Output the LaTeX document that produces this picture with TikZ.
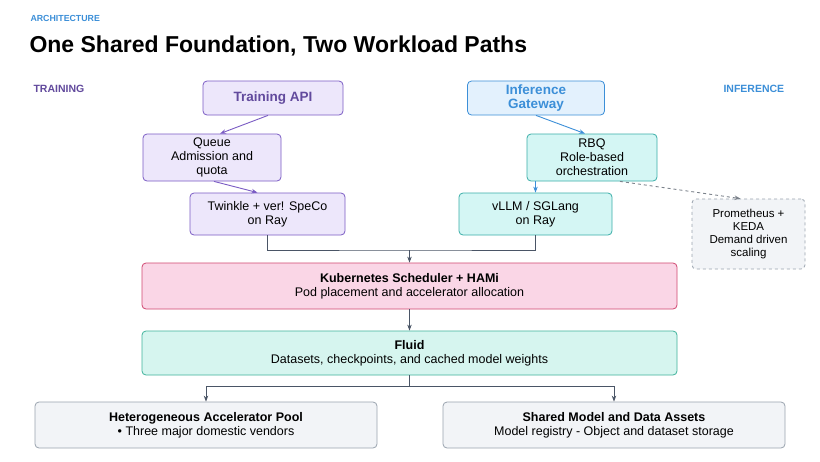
\documentclass[tikz,border=0pt]{standalone}
\usepackage{fontspec}
\setmainfont{Liberation Sans}
\usetikzlibrary{arrows.meta}
\definecolor{trainfill}{HTML}{EDE7FB}
\definecolor{trainline}{HTML}{7B5CC4}
\definecolor{inffill}{HTML}{E3F1FD}
\definecolor{infline}{HTML}{3C8FD8}
\definecolor{rbqfill}{HTML}{D4F6F4}
\definecolor{rbqline}{HTML}{3AAEA8}
\definecolor{kubefill}{HTML}{FAD6E6}
\definecolor{kubeline}{HTML}{D04770}
\definecolor{fluidfill}{HTML}{D6F5EF}
\definecolor{fluidline}{HTML}{3FB39B}
\definecolor{greyfill}{HTML}{F2F4F7}
\definecolor{greyline}{HTML}{9AA3AE}
\definecolor{linkc}{HTML}{4A5566}
\tikzset{
  box/.style={draw, rounded corners=4pt, line width=0.8pt, align=center,
    font=\fontsize{12.5}{14}\selectfont, inner sep=2pt},
  train/.style={box, fill=trainfill, draw=trainline},
  inf/.style={box, fill=inffill, draw=infline},
  rbq/.style={box, fill=rbqfill, draw=rbqline},
  grey/.style={box, fill=greyfill, draw=greyline},
  link/.style={-{Stealth[length=6pt]}, line width=0.9pt, draw=linkc}
}
\begin{document}
\begin{tikzpicture}[x=1pt, y=-1pt]
  \useasboundingbox[fill=white] (0,0) rectangle (820,461);
  % headings
  \node[anchor=west, text=infline, font=\fontsize{8.8}{10}\selectfont\bfseries] (kicker) at (27,18) {ARCHITECTURE};
  \node[anchor=west, font=\fontsize{23}{26}\selectfont\bfseries] (title) at (26,46) {One Shared Foundation, Two Workload Paths};
  \node[anchor=west, text=trainline!80!black, font=\fontsize{10.5}{12}\selectfont\bfseries] (trainlbl) at (30,89) {TRAINING};
  \node[anchor=west, text=infline, font=\fontsize{10.5}{12}\selectfont\bfseries] (inflbl) at (720,89) {INFERENCE};

  % training path
  \node[train, minimum width=140pt, minimum height=34pt, text=trainline!80!black, font=\fontsize{13.5}{15}\selectfont\bfseries] (api) at (273,98) {Training API};
  \node[train, minimum width=138pt, minimum height=47pt] (queue) at (212,157.5) {Queue\\Admission and\\quota};
  \node[train, minimum width=155pt, minimum height=42pt] (twinkle) at (267.5,214) {Twinkle + ver! SpeCo\\on Ray};

  % inference path
  \node[inf, minimum width=137pt, minimum height=34pt, text=infline, font=\fontsize{13.5}{14}\selectfont\bfseries] (gateway) at (536,98) {Inference\\Gateway};
  \node[rbq, minimum width=130pt, minimum height=47pt] (rbq) at (592,157.5) {RBQ\\Role-based\\orchestration};
  \node[rbq, minimum width=153pt, minimum height=42pt] (vllm) at (535.5,214) {vLLM / SGLang\\on Ray};
  \node[grey, dashed, minimum width=113pt, minimum height=70pt, font=\fontsize{11.5}{13}\selectfont] (scale) at (748.5,234) {Prometheus +\\KEDA\\Demand driven\\scaling};

  % shared layers
  \node[box, fill=kubefill, draw=kubeline, minimum width=535pt, minimum height=46pt] (kube) at (409.5,286) {\textbf{Kubernetes Scheduler + HAMi}\\Pod placement and accelerator allocation};
  \node[box, fill=fluidfill, draw=fluidline, minimum width=535pt, minimum height=44pt] (fluid) at (409.5,353) {\textbf{Fluid}\\Datasets, checkpoints, and cached model weights};
  \node[grey, minimum width=342pt, minimum height=46pt] (pool) at (206,425) {\textbf{Heterogeneous Accelerator Pool}\\• Three major domestic vendors};
  \node[grey, minimum width=342pt, minimum height=46pt] (assets) at (614,425) {\textbf{Shared Model and Data Assets}\\Model registry - Object and dataset storage};

  % connectors
  \coordinate (merge) at (409.5,250);
  \draw[link, draw=trainline] ([xshift=-5pt]api.south) -- ([xshift=8pt]queue.north);
  \draw[link, draw=trainline] ([xshift=2pt]queue.south) -- ([xshift=-10pt]twinkle.north);
  \draw[link, draw=infline] (gateway.south) -- ([xshift=-7pt]rbq.north);
  \draw[link, draw=infline] (rbq.south -| vllm.north) -- (vllm.north);
  \draw[link, dashed, draw=greyline!80!black] ([xshift=28pt]rbq.south) -- ([xshift=-8pt]scale.north);
  \draw[line width=0.9pt, draw=linkc] (twinkle.south) |- (merge) -| (vllm.south);
  \draw[link] (merge) -- (kube.north);
  \draw[link] (kube.south) -- (fluid.north);
  \coordinate (split) at (409.5,386);
  \draw[line width=0.9pt, draw=linkc] (fluid.south) -- (split);
  \draw[link] (split) -| (pool.north);
  \draw[link] (split) -| (assets.north);
\end{tikzpicture}
\end{document}
